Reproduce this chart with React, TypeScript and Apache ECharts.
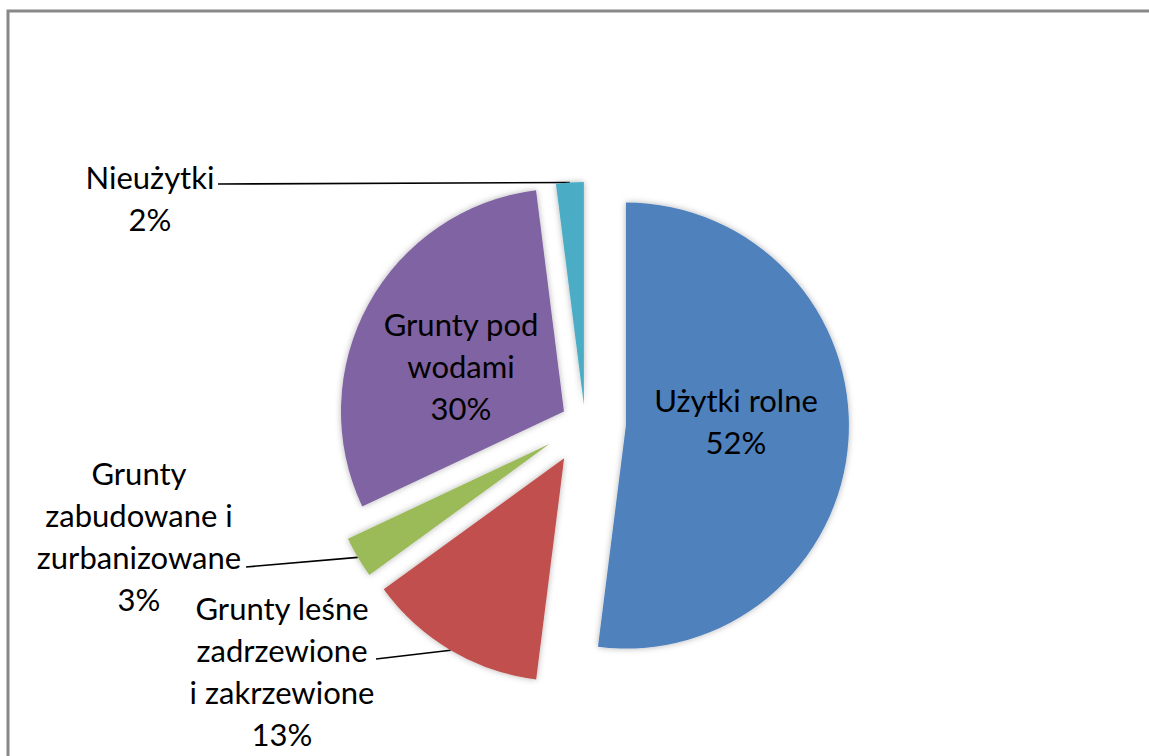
import React, { useEffect, useRef } from 'react';
import * as echarts from 'echarts';

// ---- data ----
const categories = [
  'Użytki rolne',
  'Grunty leśne zadrzewione i zakrzewione',
  'Grunty zabudowane i zurbanizowane',
  'Grunty pod wodami',
  'Nieużytki',
];
const values = [52, 13, 3, 30, 2];
const labelTexts = [
  'Użytki rolne',
  'Grunty leśne\nzadrzewione\ni zakrzewione',
  'Grunty\nzabudowane i\nzurbanizowane',
  'Grunty pod\nwodami',
  'Nieużytki',
];

// ---- styles / layout ----
const COLORS = ['#4F81BD', '#C0504D', '#9BBB59', '#8064A2', '#4BACC6'];
const PIE = { cx: 585, cy: 423, r: 223 };
const EXPLODE_GROUPS = [
  { items: [0, 1, 2], offset: 41 },
  { items: [3], offset: 24 },
  { items: [4], offset: 18 },
];
const LABEL_LAYOUT: any[] = [
  { x: 736, y: 421, inside: true },
  { x: 282, y: 671, lineEnd: [376, 659] },
  { x: 139, y: 536, lineEnd: [246, 567] },
  { x: 461, y: 366, inside: true },
  { x: 150, y: 198, lineEnd: [218, 184] },
];
const FONT = { fontFamily: 'Lato', fontSize: 31, lineHeight: 42, color: '#000' };

// direction of each slice's bisector (pie starts at 12 o'clock, clockwise)
function midDir(i: number) {
  const total = values.reduce((a, b) => a + b, 0);
  let cum = 0;
  for (let k = 0; k < i; k++) cum += values[k];
  const f = (cum + values[i] / 2) / total;
  return [Math.sin(2 * Math.PI * f), -Math.cos(2 * Math.PI * f)];
}

function buildOption() {
  const series = EXPLODE_GROUPS.map((g) => ({
    type: 'pie',
    center: [PIE.cx, PIE.cy],
    radius: PIE.r,
    startAngle: 90,
    clockwise: true,
    selectedMode: 'multiple',
    selectedOffset: g.offset,
    avoidLabelOverlap: false,
    minShowLabelAngle: 0,
    emphasis: { disabled: true },
    silent: true,
    label: {
      position: 'outside',
      ...FONT,
      formatter: (p: any) => `${labelTexts[p.dataIndex]}\n${Math.round(p.percent)}%`,
    },
    labelLine: { show: true, length: 10, length2: 10, lineStyle: { color: '#000', width: 1.6 } },
    labelLayout: (params: any) => {
      const i = params.dataIndex;
      if (!g.items.includes(i)) return {};
      const L = LABEL_LAYOUT[i];
      const [ux, uy] = midDir(i);
      const ox = ux * g.offset;
      const oy = uy * g.offset;
      const r = params.labelRect;
      const al = params.align || 'left';
      const va = params.verticalAlign || 'top';
      const ax = r.x + (al === 'right' ? r.width : al === 'center' ? r.width / 2 : 0);
      const ay = r.y + (va === 'bottom' ? r.height : va === 'middle' ? r.height / 2 : 0);
      const res: any = {
        dx: L.x - ax - ox,
        dy: L.y - ay - oy,
        align: 'center',
        verticalAlign: 'middle',
      };
      const pts = params.labelLinePoints;
      if (L.lineEnd && pts && pts.length) {
        const x1 = pts[0][0];
        const y1 = pts[0][1];
        const end = [L.lineEnd[0] - ox, L.lineEnd[1] - oy];
        res.labelLinePoints = [[x1, y1], end, end];
      }
      return res;
    },
    data: values.map((v, i) => {
      const own = g.items.includes(i);
      const L = LABEL_LAYOUT[i];
      return {
        name: categories[i],
        value: v,
        selected: own,
        itemStyle: own
          ? { color: COLORS[i], shadowBlur: 6, shadowColor: 'rgba(0,0,0,0.3)' }
          : { color: 'rgba(0,0,0,0)' },
        label: { show: own, position: L.inside ? 'inside' : 'outside' },
        labelLine: { show: own && !L.inside },
      };
    }),
  }));

  return {
    animation: false,
    backgroundColor: '#fff',
    graphic: [
      {
        type: 'rect',
        silent: true,
        z: -10,
        shape: { x: 8, y: 11, width: 1400, height: 1000 },
        style: { fill: 'none', stroke: '#888', lineWidth: 3 },
      },
    ],
    series,
  };
}

export default function App() {
  const ref = useRef<HTMLDivElement>(null);
  useEffect(() => {
    const chart = echarts.init(ref.current!, null, { renderer: 'svg' });
    chart.setOption(buildOption() as any);
    return () => chart.dispose();
  }, []);
  return (
    <div
      ref={ref}
      style={{ position: 'fixed', left: 0, top: 0, width: 1149, height: 756, background: '#fff' }}
    />
  );
}
